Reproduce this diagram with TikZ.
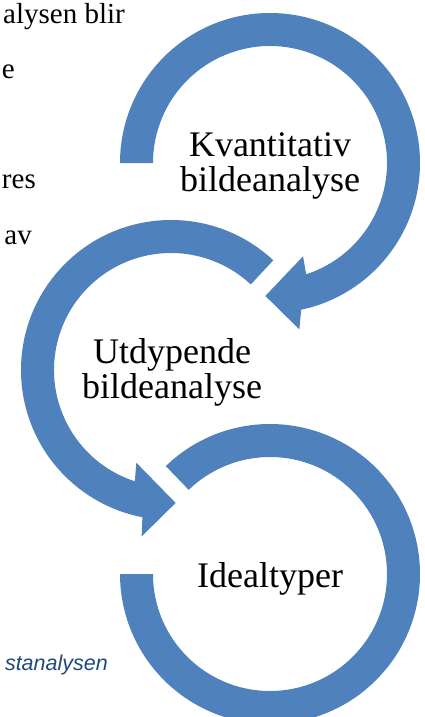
\documentclass[tikz,border=0pt]{standalone}
\usepackage{fontspec}
\setmainfont{Liberation Serif}
\newfontfamily\capfont{Liberation Sans}
\definecolor{ringblue}{HTML}{4F81BD}
\definecolor{notedark}{HTML}{1F497D}
\tikzset{
  ring/.style={fill=ringblue},
  steplabel/.style={align=center, inner sep=0pt, font=\fontsize{36}{35}\selectfont},
  bodytext/.style={anchor=base east, inner sep=0pt, font=\fontsize{29}{35}\selectfont},
}
\begin{document}
\begin{tikzpicture}[x=1pt,y=1pt]
\useasboundingbox (0,0) rectangle (424,-717);
\clip (0,0) rectangle (424,-717);

% text cut off at the left
\node[bodytext] (line1) at (125,-24) {alysen blir};
\node[bodytext] (line2) at (15,-78) {e};
\node[bodytext] (line3) at (36,-188) {res};
\node[bodytext] (line4) at (32,-244) {av};
\node[bodytext, text=notedark, font=\capfont\itshape\fontsize{21.5}{24}\selectfont] (caption) at (108,-670) {stanalysen};

\coordinate (c1) at (270,-163);
\coordinate (c2) at (171,-370);
\coordinate (c3) at (270,-574);

% three rings
\fill[ring, shift={(c1)}] (180:150) arc[start angle=180, end angle=-78, radius=150]
  -- (-80:169) -- (-92:133) -- (-70.5:99) -- (-72:117)
  arc[start angle=-72, end angle=180, radius=117] -- cycle;
\fill[ring, shift={(c2)}] (47:150) arc[start angle=47, end angle=259, radius=150]
  -- (260:169) -- (272:133) -- (249.5:99) -- (252:117)
  arc[start angle=252, end angle=47, radius=117] -- cycle;
\fill[ring, shift={(c3)}] (134:150) arc[start angle=134, end angle=-180, radius=150]
  -- (180:117) arc[start angle=-180, end angle=134, radius=117] -- cycle;

\node[steplabel] (kvant) at (270,-166) {Kvantitativ\\bildeanalyse};
\node[steplabel] (utdyp) at (172,-372) {Utdypende\\bildeanalyse};
\node[steplabel] (ideal) at (270,-578.6) {Idealtyper};

\end{tikzpicture}
\end{document}
